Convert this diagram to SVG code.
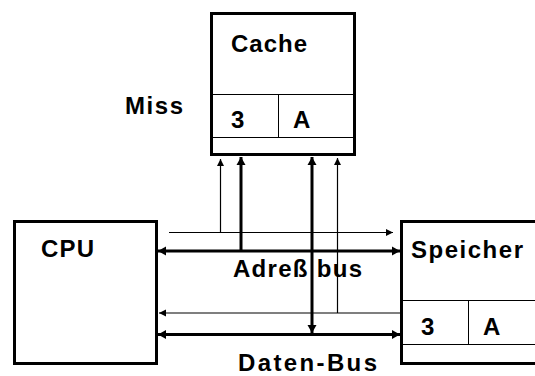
<svg xmlns="http://www.w3.org/2000/svg" width="535" height="376" viewBox="0 0 535 376">
<style>
.box{fill:#fff;stroke:#000;stroke-width:3}
.div{fill:none;stroke:#000;stroke-width:1}
.lbl{font-family:"Liberation Sans",Arial,sans-serif;font-weight:bold;font-size:24px;fill:#000}
.thick{fill:none;stroke:#000;stroke-width:3}
.thin{fill:none;stroke:#000;stroke-width:1.2}
</style>
<defs>
<marker id="ak" markerUnits="userSpaceOnUse" markerWidth="10" markerHeight="10" refX="8" refY="5" orient="auto-start-reverse">
<path d="M0,0.5 L8,5 L0,9.5 z" fill="#000"/>
</marker>
<marker id="an" markerUnits="userSpaceOnUse" markerWidth="8" markerHeight="8" refX="7" refY="4" orient="auto-start-reverse">
<path d="M0,0.5 L7,4 L0,7.5 z" fill="#000"/>
</marker>
</defs>
<rect width="535" height="376" fill="#fff"/>
<g id="cache">
<rect class="box" x="211.5" y="13.5" width="143" height="141"/>
<path class="div" d="M213,94.5 H353 M213,137.5 H353 M278.5,94.5 V137.5"/>
<text class="lbl" x="231" y="52" textLength="76" lengthAdjust="spacing">Cache</text>
<text class="lbl" x="231" y="128">3</text>
<text class="lbl" x="293" y="128">A</text>
</g>
<g id="miss">
<text class="lbl" x="125" y="114" textLength="58" lengthAdjust="spacing">Miss</text>
</g>
<g id="cpu">
<rect class="box" x="14.5" y="221.5" width="142" height="142"/>
<text class="lbl" x="41" y="257" textLength="53" lengthAdjust="spacing">CPU</text>
</g>
<g id="speicher">
<rect class="box" x="401.5" y="221.5" width="150" height="142"/>
<path class="div" d="M403,300.5 H535 M403,344.5 H535 M468.5,300.5 V344.5"/>
<text class="lbl" x="411" y="258" textLength="112" lengthAdjust="spacing">Speicher</text>
<text class="lbl" x="421" y="335">3</text>
<text class="lbl" x="483" y="335">A</text>
</g>
<g id="connectors">
<path class="thin" d="M169,232.5 H393" marker-end="url(#an)"/>
<path class="thin" d="M220.5,232.5 V159" marker-end="url(#an)"/>
<path class="thick" d="M158,251 H400" marker-start="url(#ak)" marker-end="url(#ak)"/>
<path class="thick" d="M241,251 V157" marker-end="url(#ak)"/>
<path class="thick" d="M312,157 V333" marker-start="url(#ak)" marker-end="url(#ak)"/>
<path class="thin" d="M337.5,313 V158" marker-end="url(#an)"/>
<path class="thin" d="M401,313 H159" marker-end="url(#an)"/>
<path class="thick" d="M158,334.5 H400" marker-start="url(#ak)" marker-end="url(#ak)"/>
</g>
<g id="labels">
<text class="lbl" x="233" y="277" textLength="129" lengthAdjust="spacing">Adreß bus</text>
<text class="lbl" x="238" y="371" textLength="139" lengthAdjust="spacing">Daten-Bus</text>
</g>
</svg>
